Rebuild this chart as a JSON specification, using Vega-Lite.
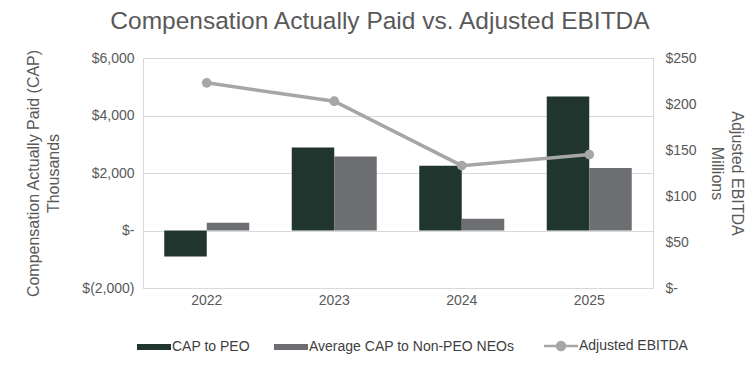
{
  "$schema": "https://vega.github.io/schema/vega-lite/v6.json",
  "width": 510,
  "height": 230,
  "autosize": {"type": "none"},
  "padding": {"left": 143, "top": 58, "right": 103, "bottom": 86},
  "background": "white",
  "config": {
    "font": "Liberation Sans",
    "view": {"stroke": "#d9d9d9", "strokeWidth": 1}
  },
  "title": {
    "text": "Compensation Actually Paid vs. Adjusted EBITDA",
    "fontSize": 24.5,
    "font": "Liberation Sans",
    "fontWeight": "normal",
    "color": "#595959",
    "anchor": "middle",
    "frame": "group",
    "dx": -18,
    "offset": 14
  },
  "data": {
    "values": [
      {"year": "2022", "series": "CAP to PEO", "value": -900},
      {"year": "2022", "series": "Average CAP to Non-PEO NEOs", "value": 270},
      {"year": "2023", "series": "CAP to PEO", "value": 2890},
      {"year": "2023", "series": "Average CAP to Non-PEO NEOs", "value": 2570},
      {"year": "2024", "series": "CAP to PEO", "value": 2250},
      {"year": "2024", "series": "Average CAP to Non-PEO NEOs", "value": 410},
      {"year": "2025", "series": "CAP to PEO", "value": 4660},
      {"year": "2025", "series": "Average CAP to Non-PEO NEOs", "value": 2170},
      {"year": "2022", "series": "Adjusted EBITDA", "value": 223},
      {"year": "2023", "series": "Adjusted EBITDA", "value": 203},
      {"year": "2024", "series": "Adjusted EBITDA", "value": 133},
      {"year": "2025", "series": "Adjusted EBITDA", "value": 145}
    ]
  },
  "encoding": {
    "x": {
      "field": "year",
      "type": "ordinal",
      "scale": {"paddingInner": 0.3333, "paddingOuter": 0.1667},
      "axis": {
        "title": null,
        "labelAngle": 0,
        "domain": false,
        "ticks": false,
        "labelPadding": 5,
        "labelFontSize": 14,
        "labelColor": "#595959"
      }
    }
  },
  "layer": [
    {
      "transform": [{"filter": "datum.series !== 'Adjusted EBITDA'"}],
      "mark": {"type": "bar"},
      "encoding": {
        "xOffset": {
          "field": "series",
          "type": "nominal",
          "sort": ["CAP to PEO", "Average CAP to Non-PEO NEOs"],
          "scale": {"paddingInner": 0, "paddingOuter": 0}
        },
        "y": {
          "field": "value",
          "type": "quantitative",
          "scale": {"domain": [-2000, 6000], "nice": false},
          "axis": {
            "title": ["Compensation Actually Paid (CAP)", "Thousands"],
            "titleFontSize": 16,
            "titleFontWeight": "normal",
            "titleColor": "#595959",
            "titlePadding": 20,
            "titleLineHeight": 20,
            "values": [-2000, 0, 2000, 4000, 6000],
            "labelExpr": "datum.value === 0 ? '$-' : (datum.value < 0 ? '$(' + format(-datum.value, ',') + ')' : '$' + format(datum.value, ','))",
            "labelFontSize": 14,
            "labelColor": "#595959",
            "labelPadding": 9,
            "ticks": false,
            "domain": false,
            "grid": true,
            "gridColor": "#d9d9d9",
            "gridWidth": 1
          }
        },
        "color": {
          "field": "series",
          "type": "nominal",
          "scale": {
            "domain": ["CAP to PEO", "Average CAP to Non-PEO NEOs", "Adjusted EBITDA"],
            "range": ["#1f352d", "#6d6e71", "#a6a6a6"]
          },
          "legend": {
            "title": null,
            "orient": "none",
            "direction": "horizontal",
            "legendX": 4,
            "legendY": 281,
            "symbolSize": 1024,
            "labelFontSize": 14,
            "labelColor": "#404040",
            "labelOffset": 11,
            "labelLimit": 400,
            "columnPadding": 24,
            "encode": {
              "symbols": {
                "update": {
                  "shape": {"signal": "datum.value === 'Adjusted EBITDA' ? 'M-1.0625,0H1.0625M-0.25,0A0.25,0.25 0 1 1 0.25,0A0.25,0.25 0 1 1 -0.25,0Z' : 'M-1.0625,-0.19H1.0625V0.19H-1.0625Z'"},
                  "fill": {"scale": "color", "field": "value"},
                  "stroke": {"scale": "color", "field": "value"},
                  "strokeWidth": {"signal": "datum.value === 'Adjusted EBITDA' ? 2.5 : 0"},
                  "opacity": {"value": 1}
                }
              }
            }
          }
        }
      }
    },
    {
      "transform": [{"filter": "datum.series === 'Adjusted EBITDA'"}],
      "mark": {"type": "line", "strokeWidth": 3.5, "point": {"filled": true, "size": 95, "opacity": 1}},
      "encoding": {
        "y": {
          "field": "value",
          "type": "quantitative",
          "scale": {"domain": [0, 250], "nice": false},
          "axis": {
            "orient": "right",
            "title": ["Adjusted EBITDA", "Millions"],
            "titleFontSize": 16,
            "titleFontWeight": "normal",
            "titleColor": "#595959",
            "titlePadding": 12,
            "titleLineHeight": 20,
            "values": [0, 50, 100, 150, 200, 250],
            "labelExpr": "datum.value === 0 ? '$-' : '$' + datum.value",
            "labelFontSize": 14,
            "labelColor": "#595959",
            "labelPadding": 12,
            "ticks": false,
            "domain": false,
            "grid": false
          }
        },
        "color": {
          "field": "series",
          "type": "nominal",
          "scale": {
            "domain": ["CAP to PEO", "Average CAP to Non-PEO NEOs", "Adjusted EBITDA"],
            "range": ["#1f352d", "#6d6e71", "#a6a6a6"]
          }
        }
      }
    }
  ],
  "resolve": {"scale": {"y": "independent"}}
}
